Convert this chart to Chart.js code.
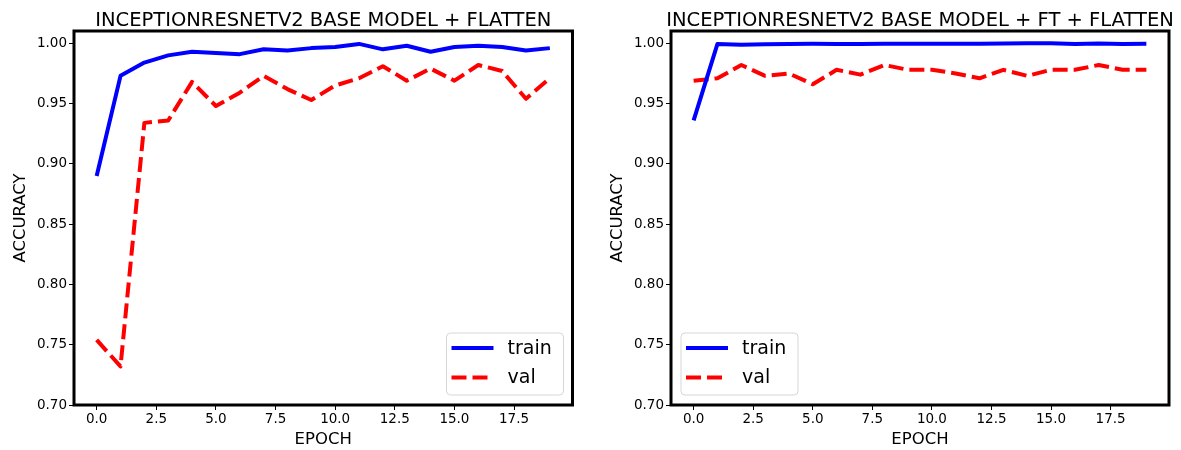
<!DOCTYPE html>
<html>
<head>
<meta charset="utf-8">
<title>InceptionResNetV2 accuracy</title>
<script src="https://cdn.jsdelivr.net/npm/chart.js@4.4.1/dist/chart.umd.min.js"></script>
<style>
  body { margin: 0; background: #fff; }
  #wrap { position: relative; width: 1181px; height: 450px; }
  canvas { position: absolute; top: 0; }
  #chartBase { left: 0; }
  #chartFt { left: 597px; }
</style>
</head>
<body>
<div id="wrap">
  <canvas id="chartBase" width="597" height="450"></canvas>
  <canvas id="chartFt" width="584" height="450"></canvas>
</div>
<script>
// ========================================
// DATA
// ========================================
const epochs = [0, 1, 2, 3, 4, 5, 6, 7, 8, 9, 10, 11, 12, 13, 14, 15, 16, 17, 18, 19];
const seriesNames = ["train", "val"];

// base model + flatten
const baseTrain = [0.890, 0.973, 0.984, 0.990, 0.993, 0.992, 0.991, 0.995, 0.994, 0.996,
                   0.997, 0.9995, 0.995, 0.998, 0.993, 0.997, 0.998, 0.997, 0.994, 0.996];
const baseVal = [0.754, 0.732, 0.934, 0.936, 0.968, 0.948, 0.959, 0.973, 0.962, 0.953,
                 0.965, 0.971, 0.981, 0.969, 0.979, 0.969, 0.982, 0.977, 0.954, 0.971];

// base model + fine tuning + flatten
const ftTrain = [0.936, 0.9995, 0.9988, 0.9992, 0.9995, 0.9997, 0.9995, 0.9995, 0.9997, 0.9996,
                 0.9996, 0.9996, 0.9996, 0.9998, 1.0, 1.0, 0.9995, 0.9998, 0.9995, 0.9996];
const ftVal = [0.969, 0.971, 0.982, 0.973, 0.975, 0.966, 0.978, 0.974, 0.982, 0.978,
               0.978, 0.975, 0.971, 0.978, 0.973, 0.978, 0.978, 0.982, 0.978, 0.978];

const xTicks = [0, 2.5, 5, 7.5, 10, 12.5, 15, 17.5];
const yTicks = [0.70, 0.75, 0.80, 0.85, 0.90, 0.95, 1.00];

const FONT = "'DejaVu Sans', sans-serif";
Chart.defaults.font.family = FONT;
Chart.defaults.color = "#000";

// ========================================
// PLUGINS
// ========================================

// black box round the plot area
const framePlugin = {
  id: "frame",
  afterDatasetsDraw(chart) {
    const a = chart.chartArea;
    const ctx = chart.ctx;
    ctx.save();
    ctx.strokeStyle = "#000";
    ctx.lineWidth = 3;
    ctx.strokeRect(a.left, a.top, a.right - a.left, a.bottom - a.top);
    ctx.restore();
  },
};

// title centred over the plot area (not the whole canvas)
const axesTitlePlugin = {
  id: "axesTitle",
  afterDraw(chart, args, opts) {
    const a = chart.chartArea;
    const ctx = chart.ctx;
    ctx.save();
    ctx.fillStyle = "#000";
    ctx.font = "19.5px " + FONT;
    ctx.textAlign = "center";
    ctx.textBaseline = "middle";
    ctx.fillText(opts.text, (a.left + a.right) / 2, 20.5);
    ctx.restore();
  },
};

// matplotlib-like legend inside the plot
const boxLegendPlugin = {
  id: "boxLegend",
  afterDraw(chart, args, opts) {
    const a = chart.chartArea;
    const ctx = chart.ctx;
    const w = 117;
    const h = 62;
    const x = opts.align === "left" ? a.left + 10 : a.right - 9 - w;
    const y = a.bottom - 10 - h;

    ctx.save();
    ctx.beginPath();
    ctx.roundRect(x, y, w, h, 4);
    ctx.fillStyle = "rgba(255,255,255,0.8)";
    ctx.fill();
    ctx.strokeStyle = "#d6d6d6";
    ctx.lineWidth = 1;
    ctx.stroke();

    chart.data.datasets.forEach((ds, i) => {
      const rowY = y + 15 + i * 29.5;
      ctx.beginPath();
      ctx.setLineDash(ds.borderDash || []);
      ctx.strokeStyle = ds.borderColor;
      ctx.lineWidth = ds.borderWidth;
      ctx.moveTo(x + 5, rowY);
      ctx.lineTo(x + 47, rowY);
      ctx.stroke();
      ctx.setLineDash([]);
      ctx.fillStyle = "#000";
      ctx.font = "19px " + FONT;
      ctx.textBaseline = "middle";
      ctx.fillText(ds.label, x + 61, rowY + 1);
    });
    ctx.restore();
  },
};

// ========================================
// CHART
// ========================================
function toPoints(values) {
  return values.map((v, i) => ({ x: epochs[i], y: v }));
}

function renderAccuracyChart(canvasId, title, trainValues, valValues, legendAlign, rightPad) {
  const ctx = document.getElementById(canvasId);
  return new Chart(ctx, {
    type: "line",
    data: {
      datasets: [
        {
          label: seriesNames[0],
          data: toPoints(trainValues),
          borderColor: "#0000ff",
          borderWidth: 4,
          borderJoinStyle: "round",
          pointRadius: 0,
          tension: 0,
          fill: false,
        },
        {
          label: seriesNames[1],
          data: toPoints(valValues),
          borderColor: "#ff0000",
          borderWidth: 4,
          borderDash: [15, 6],
          borderJoinStyle: "round",
          pointRadius: 0,
          tension: 0,
          fill: false,
        },
      ],
    },
    options: {
      responsive: false,
      animation: false,
      layout: { padding: { left: 0, right: rightPad, top: 31, bottom: 0 } },
      plugins: {
        legend: { display: false },
        tooltip: { enabled: false },
        title: { display: false },
        axesTitle: { text: title },
        boxLegend: { align: legendAlign },
      },
      scales: {
        x: {
          type: "linear",
          min: -0.95,
          max: 19.95,
          afterBuildTicks: (s) => {
            s.ticks = xTicks.map((v) => ({ value: v }));
          },
          afterFit: (s) => {
            s.height = 45;
          },
          ticks: {
            callback: (v) => v.toFixed(1),
            font: { size: 13.5 },
            color: "#000",
            padding: 1,
            maxRotation: 0,
            autoSkip: false,
          },
          grid: {
            drawOnChartArea: false,
            drawTicks: true,
            tickLength: 5,
            tickColor: "#000",
            tickWidth: 1,
          },
          border: { display: false },
          title: {
            display: true,
            text: "EPOCH",
            color: "#000",
            font: { size: 16.5 },
            padding: { top: 0, bottom: 0.8 },
          },
        },
        y: {
          type: "linear",
          min: 0.7,
          max: 1.0102,
          afterBuildTicks: (s) => {
            s.ticks = yTicks.map((v) => ({ value: v }));
          },
          afterFit: (s) => {
            s.width = 74;
          },
          ticks: {
            callback: (v) => v.toFixed(2),
            font: { size: 13.5 },
            color: "#000",
            padding: 2,
          },
          grid: {
            drawOnChartArea: false,
            drawTicks: true,
            tickLength: 5,
            tickColor: "#000",
            tickWidth: 1,
          },
          border: { display: false },
          title: {
            display: true,
            text: "ACCURACY",
            color: "#000",
            font: { size: 16.5 },
            padding: { top: 11.1, bottom: 0 },
          },
        },
      },
    },
    plugins: [framePlugin, axesTitlePlugin, boxLegendPlugin],
  });
}

renderAccuracyChart("chartBase", "INCEPTIONRESNETV2 BASE MODEL + FLATTEN", baseTrain, baseVal, "right", 24.5);
renderAccuracyChart("chartFt", "INCEPTIONRESNETV2 BASE MODEL + FT + FLATTEN", ftTrain, ftVal, "left", 12);
</script>
</body>
</html>
